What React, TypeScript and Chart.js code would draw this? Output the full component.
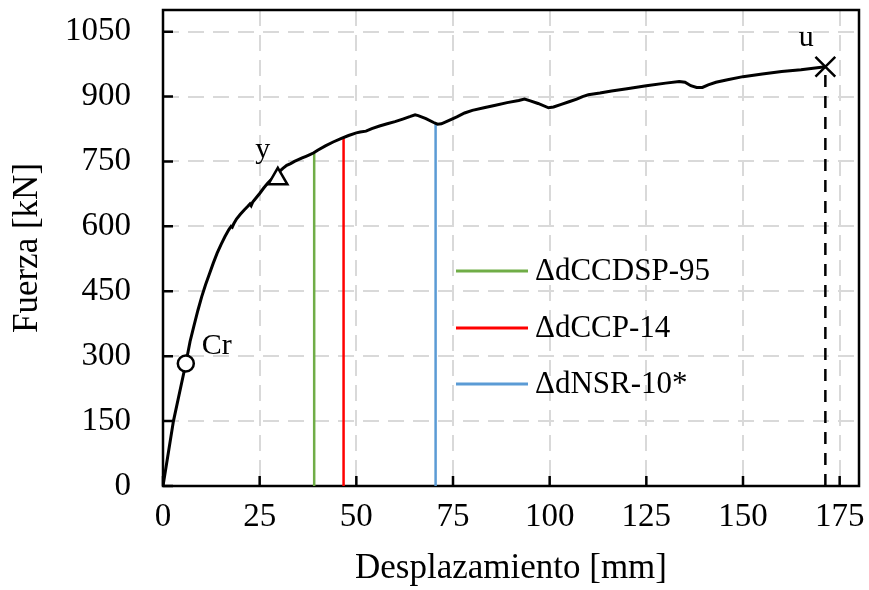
import React, { useEffect, useRef } from "react";
import { Chart, registerables } from "chart.js";

Chart.register(...registerables);

// Pushover curve (displacement mm, force kN)
const dispMm = [0, 2.7, 5.9, 7, 8, 9, 10, 11, 12, 13, 14, 15, 16, 17, 17.6, 17.9, 18.3, 19, 20, 21, 22, 22.5, 22.8, 23.2, 24, 25, 26, 27, 28, 29, 30, 31, 32, 33, 34, 35, 36, 37, 38, 39, 40, 42, 44, 46, 48, 50, 51, 52.5, 54, 56, 58, 60, 62, 64, 65.2, 66, 68, 70, 71, 72, 74, 76, 78, 80, 83, 86, 89, 92, 93.5, 95, 97, 99.7, 101, 103, 105, 107, 108.5, 110, 113, 116, 120, 125, 130, 133.5, 135, 136.5, 138, 139.5, 141, 143, 146, 150, 155, 160, 165, 171.3];
const forceKn = [0, 150, 283, 334, 370, 405, 437, 465, 490, 515, 538, 558, 576, 592, 600, 598, 606, 617, 628, 638, 647, 652, 648, 656, 665, 676, 688, 699, 708, 718, 726, 734, 741, 745, 750, 754, 758, 762, 766, 770, 776, 786, 795, 803, 810, 816, 818, 820, 826, 832, 837, 842, 848, 854, 858, 856, 849, 840, 836, 837, 845, 853, 862, 868, 874, 880, 886, 891, 894, 890, 884, 874, 876, 882, 888, 894, 900, 904, 908, 913, 918, 925, 931, 935, 933, 925, 921, 921, 927, 933, 939, 946, 952, 958, 962, 969];

// Characteristic points
const pointNames = ["Cr", "y", "u"];
const pointDisp = [5.9, 29.7, 171.3];
const pointForce = [283, 710, 969];

// Code limits (vertical lines)
const codeNames = ["\u0394dCCDSP-95", "\u0394dCCP-14", "\u0394dNSR-10*"];
const codeDisp = [39.1, 46.7, 70.5];
const codeForce = [769, 805, 837];
const codeColors = ["#70AD47", "#FF0000", "#5B9BD5"];

// Axis ticks
const xTicks = [0, 25, 50, 75, 100, 125, 150, 175];
const yTicks = [0, 150, 300, 450, 600, 750, 900, 1050];

const FONT = '"Liberation Serif", "Times New Roman", serif';

export default function App() {
  const ref = useRef<HTMLCanvasElement>(null);

  useEffect(() => {
    const canvas = ref.current;
    if (!canvas) return;

    const overlay = {
      id: "overlay",
      beforeDatasetsDraw(chart: any) {
        const { ctx, chartArea: a, scales } = chart;
        ctx.save();
        ctx.strokeStyle = "#000";
        ctx.lineWidth = 2.5;
        ctx.setLineDash([]);
        ctx.strokeRect(a.left, a.top, a.right - a.left, a.bottom - a.top);
        // inward ticks
        ctx.beginPath();
        for (const v of xTicks) {
          const px = scales.x.getPixelForValue(v);
          ctx.moveTo(px, a.bottom);
          ctx.lineTo(px, a.bottom - 10);
        }
        for (const v of yTicks) {
          const py = scales.y.getPixelForValue(v);
          ctx.moveTo(a.left, py);
          ctx.lineTo(a.left + 10, py);
        }
        ctx.stroke();
        ctx.restore();
      },
      afterDatasetsDraw(chart: any) {
        const { ctx, chartArea: a, scales } = chart;
        ctx.save();
        ctx.fillStyle = "#000";
        ctx.font = `30px ${FONT}`;
        ctx.textBaseline = "alphabetic";
        const offs = [
          [16, -10, "left"],
          [-15, -21, "center"],
          [-19, -21, "center"],
        ];
        pointNames.forEach((n, i) => {
          const px = scales.x.getPixelForValue(pointDisp[i]);
          const py = scales.y.getPixelForValue(pointForce[i]);
          ctx.textAlign = offs[i][2] as CanvasTextAlign;
          ctx.fillText(n, px + (offs[i][0] as number), py + (offs[i][1] as number));
        });
        // legend
        const lx0 = a.left + 293;
        const lx1 = a.left + 365;
        const rows = [261, 318, 374];
        ctx.font = `31px ${FONT}`;
        ctx.textAlign = "left";
        ctx.textBaseline = "middle";
        codeNames.forEach((n, i) => {
          const y = a.top + rows[i];
          ctx.strokeStyle = codeColors[i];
          ctx.lineWidth = 3;
          ctx.beginPath();
          ctx.moveTo(lx0, y);
          ctx.lineTo(lx1, y);
          ctx.stroke();
          ctx.fillStyle = "#000";
          ctx.fillText(n, lx1 + 7, y + 1);
        });
        ctx.restore();
      },
    };

    const curve = dispMm.map((x, i) => ({ x, y: forceKn[i] }));

    const datasets: any[] = [];
    datasets.push({
      data: [{ x: pointDisp[0], y: pointForce[0] }],
      pointStyle: "circle",
      pointRadius: 8,
      pointBackgroundColor: "#fff",
      pointBorderColor: "#000",
      pointBorderWidth: 2.5,
      showLine: false,
      order: 0,
    });
    datasets.push({
      data: [{ x: pointDisp[1], y: pointForce[1] }],
      pointStyle: "triangle",
      pointRadius: 11,
      pointBackgroundColor: "#fff",
      pointBorderColor: "#000",
      pointBorderWidth: 2.5,
      showLine: false,
      order: 0,
    });
    datasets.push({
      data: [{ x: pointDisp[2], y: pointForce[2] }],
      pointStyle: "crossRot",
      pointRadius: 14,
      pointBorderColor: "#000",
      pointBorderWidth: 2.5,
      showLine: false,
      order: 0,
    });
    datasets.push({
      data: curve,
      showLine: true,
      borderColor: "#000",
      borderWidth: 3,
      pointRadius: 0,
      tension: 0,
      order: 1,
    });
    datasets.push({
      data: [
        { x: pointDisp[2], y: 0 },
        { x: pointDisp[2], y: pointForce[2] },
      ],
      showLine: true,
      borderColor: "#000",
      borderWidth: 2.5,
      borderDash: [12, 9],
      pointRadius: 0,
      order: 2,
    });
    codeDisp.forEach((x, i) => {
      datasets.push({
        data: [
          { x, y: 0 },
          { x, y: codeForce[i] },
        ],
        showLine: true,
        borderColor: codeColors[i],
        borderWidth: 2.5,
        pointRadius: 0,
        order: 2,
      });
    });

    const chart = new Chart(canvas, {
      type: "scatter",
      data: { datasets },
      plugins: [overlay],
      options: {
        responsive: false,
        animation: false,
        devicePixelRatio: 1,
        layout: { autoPadding: false, padding: { left: 0, top: 10, right: 10, bottom: 0 } },
        plugins: { legend: { display: false }, tooltip: { enabled: false } },
        scales: {
          x: {
            type: "linear",
            min: 0,
            max: 180,
            afterBuildTicks: (s: any) => {
              s.ticks = xTicks.map((v) => ({ value: v }));
            },
            afterFit: (s: any) => {
              s.height = 104;
              s.paddingLeft = 0;
              s.paddingRight = 0;
            },
            grid: { color: "#d9d9d9", lineWidth: 2, drawTicks: false },
            border: { display: false, dash: [16, 9] },
            ticks: {
              color: "#000",
              font: { family: FONT, size: 33 },
              padding: 12,
              autoSkip: false,
              maxRotation: 0,
              callback: (v: any) => String(v),
            },
            title: {
              display: true,
              text: "Desplazamiento [mm]",
              color: "#000",
              font: { family: FONT, size: 35 },
              padding: { top: 0, bottom: 0 },
            },
          },
          y: {
            type: "linear",
            min: 0,
            max: 1100,
            afterBuildTicks: (s: any) => {
              s.ticks = yTicks.map((v) => ({ value: v }));
            },
            afterFit: (s: any) => {
              s.width = 163;
              s.paddingTop = 0;
              s.paddingBottom = 0;
            },
            grid: { color: "#d9d9d9", lineWidth: 2, drawTicks: false },
            border: { display: false, dash: [16, 9] },
            ticks: {
              color: "#000",
              font: { family: FONT, size: 33 },
              padding: 32,
              autoSkip: false,
              callback: (v: any) => String(v),
            },
            title: {
              display: true,
              text: "Fuerza [kN]",
              color: "#000",
              font: { family: FONT, size: 35 },
              padding: { top: 7, bottom: 0 },
            },
          },
        },
      },
    } as any);

    return () => chart.destroy();
  }, []);

  return (
    <div style={{ position: "fixed", left: 0, top: 0, width: 869, height: 590, background: "#fff" }}>
      <canvas ref={ref} width={869} height={590} style={{ display: "block" }} />
    </div>
  );
}
